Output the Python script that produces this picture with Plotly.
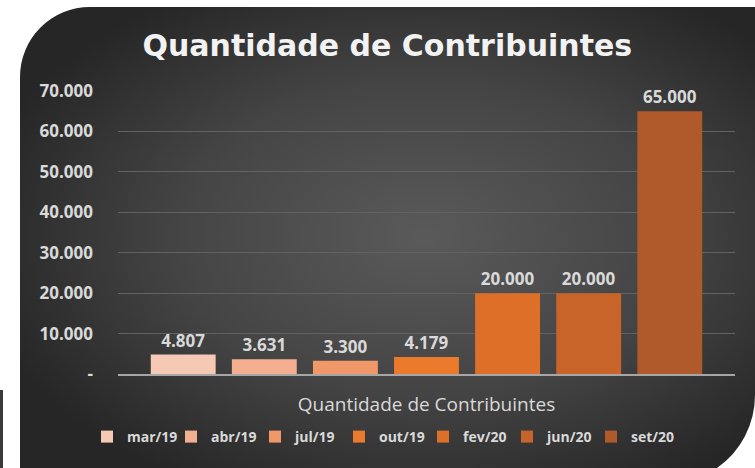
import base64
import plotly.graph_objects as go

categories = ["Quantidade de Contribuintes"]
series_names = ["mar/19", "abr/19", "jul/19", "out/19", "fev/20", "jun/20", "set/20"]
series_values = [4807, 3631, 3300, 4179, 20000, 20000, 65000]
series_colors = ["#F6C9B5", "#F3AF90", "#F19868", "#EC7A2D", "#DE6F28", "#C8642A", "#B0592B"]
tick_values = [0, 10000, 20000, 30000, 40000, 50000, 60000, 70000]
tick_labels = ["-", "10.000", "20.000", "30.000", "40.000", "50.000", "60.000", "70.000"]

W, H = 755, 468
L, R, T, B = 118, 20, 91, 94
pw, ph = W - L - R, H - T - B

svg = f'''<svg xmlns="http://www.w3.org/2000/svg" width="{W}" height="{H}" viewBox="0 0 {W} {H}" preserveAspectRatio="none">
<defs><radialGradient id="g" cx="0.55" cy="0.5" r="0.62">
<stop offset="0" stop-color="#5a5a5a"/><stop offset="0.55" stop-color="#444444"/><stop offset="1" stop-color="#262626"/></radialGradient></defs>
<rect x="0" y="390" width="3" height="78" fill="#3a3a3a"/>
<path d="M20,77 A70,70 0 0 1 90,7 L755,7 L755,395 A89,89 0 0 1 717,468 L20,468 Z" fill="url(#g)"/>
</svg>'''
src = "data:image/svg+xml;base64," + base64.b64encode(svg.encode()).decode()

fig = go.Figure()
for name, val, col in zip(series_names, series_values, series_colors):
    fig.add_trace(go.Bar(
        x=categories, y=[val], name=name,
        marker=dict(color=col, line=dict(width=0)),
        texttemplate="%{y:,.0f}", textposition="outside", cliponaxis=False,
        textfont=dict(family="Open Sans", size=17, color="#D9D9D9", weight="bold"),
    ))

fig.update_layout(
    width=W, height=H,
    margin=dict(l=L, r=R, t=T, b=B, autoexpand=False),
    paper_bgcolor="white", plot_bgcolor="rgba(0,0,0,0)",
    separators=",.",
    barmode="group", bargap=0.08, bargroupgap=0.2,
    showlegend=True,
    title=dict(text="<b>Quantidade de Contribuintes</b>", x=0.513, xref="container",
               y=1 - 45 / H, yref="container", yanchor="middle",
               font=dict(family="DejaVu Sans", size=30, color="#F2F2F2")),
    legend=dict(orientation="h", x=87 / W, xref="container", xanchor="left",
                y=1 - 437 / H, yref="container", yanchor="middle",
                font=dict(family="Open Sans", size=14, color="#D9D9D9", weight="bold"),
                itemwidth=30, entrywidth=39, entrywidthmode="pixels", bgcolor="rgba(0,0,0,0)"),
    images=[dict(source=src, xref="paper", yref="paper", x=-L / pw, y=1 + T / ph,
                 sizex=W / pw, sizey=H / ph, sizing="stretch", xanchor="left", yanchor="top",
                 layer="below")],
)
fig.update_yaxes(range=[0, 70000], tickvals=tick_values, ticktext=tick_labels,
                 showgrid=True, gridcolor="#626262", gridwidth=1, zeroline=False,
                 tickfont=dict(family="Open Sans", size=17, color="#D9D9D9", weight="bold"),
                 ticks="", ticklabelstandoff=24, showline=False)
fig.update_xaxes(showline=True, linecolor="#A6A6A6", linewidth=2,
                 tickfont=dict(family="Open Sans", size=19, color="#D9D9D9"),
                 ticks="", ticklabelstandoff=12)

fig.write_html("out.html", config={"displayModeBar": False},
               post_script="document.body.style.margin='0';document.body.style.overflow='hidden';")
